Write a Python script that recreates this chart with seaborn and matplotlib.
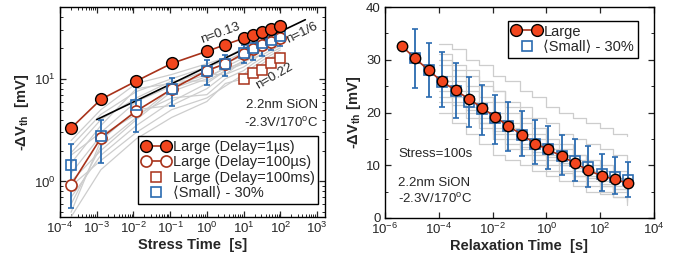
import numpy as np
import pandas as pd
import matplotlib
matplotlib.use('Agg')
import matplotlib.pyplot as plt
import matplotlib.ticker as mticker
from matplotlib.legend_handler import HandlerLine2D
from matplotlib.lines import Line2D
import seaborn as sns

sns.set_style("ticks")
plt.rcParams['font.family'] = ['Liberation Sans', 'DejaVu Sans']
plt.rcParams['mathtext.fontset'] = 'custom'
plt.rcParams['mathtext.rm'] = 'Liberation Sans'
plt.rcParams['mathtext.it'] = 'Liberation Sans:italic'
plt.rcParams['mathtext.bf'] = 'Liberation Sans:bold'
plt.rcParams['font.size'] = 9

# ---------------- datos panel izquierdo (estres) ----------------
t_stress = [2e-4, 1.3e-3, 1.2e-2, 0.11, 1.0, 3.2, 10.0, 18.0, 32.0, 56.0, 100.0]
large_1us = [3.3, 6.3, 9.5, 14.1, 18.5, 21.5, 24.8, 26.4, 28.4, 30.7, 33.0]
large_100us = [0.92, 2.65, 4.85, 7.9, 12.0, 14.0, 17.6, 19.5, 21.3, 23.0, 25.0]
t_100ms = [10.0, 18.0, 32.0, 56.0, 100.0]
large_100ms = [10.0, 11.3, 12.3, 14.1, 15.9]
small_mean = [1.43, 2.75, 5.6, 7.9, 12.0, 14.0, 17.9, 19.8, 22.2, 24.0, 25.8]
small_hi = [2.3, 4.0, 8.3, 10.2, 15.2, 17.1, 21.4, 24.0, 27.4, 30.0, 30.7]
small_lo = [0.55, 1.5, 3.0, 5.4, 8.6, 10.7, 14.1, 15.2, 16.8, 19.0, 21.0]
fit_t = [1e-3, 480.0]
fit_v = [4.0, 37.6]

gris_izq = [
    [2.2, 4.5, 7.5, 10, 13, 15, 18, 20, 22, 24, 27],
    [1.5, 3.5, 8.0, 9, 12, 14, 17, 19, 21, 23, 25],
    [1.0, 2.0, 4.0, 7.5, 10, 13, 16, 18, 20, 22, 24],
    [0.7, 1.8, 3.5, 6, 9, 12, 14, 17, 19, 20, 22],
    [0.5, 2.5, 5, 5.5, 8, 11, 13, 15, 18, 21, 23],
    [1.8, 3.0, 6, 8.5, 11, 11, 15, 16, 20, 22, 26],
    [1.2, 2.8, 4.5, 6.5, 7, 10, 12, 14, 16, 18, 20],
    [0.9, 1.6, 3.0, 5.0, 6.5, 8.5, 11, 13, 15, 17, 19],
    [2.5, 5, 9, 11, 14, 16, 20, 22, 25, 27, 29],
    [0.45, 1.3, 2.6, 4.2, 6, 9, 10, 12, 14, 16, 18],
    [1.9, 4.0, 6.5, 9.5, 9.5, 12, 15, 18, 21, 24, 28],
    [0.6, 2.2, 4.2, 8.0, 10.5, 12.5, 14.5, 16, 17, 19, 21],
]

# ---------------- datos panel derecho (relajacion) ----------------
t_relax = [4.2e-6, 1.3e-5, 4.2e-5, 1.3e-4, 4.2e-4, 1.3e-3, 4.0e-3, 1.25e-2, 3.9e-2,
           0.123, 0.38, 1.17, 3.7, 11.5, 36.0, 112.0, 350.0, 1100.0]
large_relax = [32.6, 30.3, 28.0, 25.9, 24.2, 22.6, 20.9, 19.2, 17.4, 15.8, 14.1,
               13.0, 11.7, 10.4, 9.05, 8.0, 7.3, 6.6]
small_relax = [30.3, 28.1, 25.8, 24.0, 22.0, 20.6, 19.0, 17.4, 15.8, 14.1, 13.1,
               11.8, 10.8, 9.6, 8.4, 7.7, 7.2]
small_relax_hi = [35.9, 33.2, 31.5, 29.4, 26.8, 25.3, 23.4, 22.0, 20.3, 18.5, 17.5,
                  15.8, 14.9, 13.6, 12.2, 11.6, 10.6]
small_relax_lo = [24.7, 23.0, 21.1, 19.0, 17.3, 15.8, 14.1, 12.7, 11.7, 10.3, 9.2,
                  8.2, 7.0, 5.9, 5.1, 4.6, 4.0]

t_gris = [1e-4, 3e-4, 1e-3, 3e-3, 1e-2, 3e-2, 0.1, 0.3, 1, 3, 10, 30, 100, 300, 1000]
gris_der = [
    [33, 32, 30, 29, 27, 26, 24, 23, 21, 20, 19, 18, 17, 16, 15.5],
    [31, 29, 28, 25, 24, 22, 21, 19, 18, 16, 15, 14, 13, 12, 11],
    [29, 27, 25, 23, 22, 20, 18, 17, 15, 14, 12, 11, 10, 9, 8],
    [27, 26, 24, 22, 20, 18, 16, 15, 13, 12, 11, 9, 8, 7, 6],
    [25, 23, 21, 19, 17, 16, 14, 12, 11, 10, 9, 8, 7, 5.5, 5],
    [22, 20, 19, 17, 15, 13, 12, 11, 10, 9, 8, 7, 6, 5, 3.5],
    [20, 18, 16, 14, 12, 11, 10, 9, 8, 7, 6, 5, 4.5, 4, 3],
    [30, 28, 27, 26, 24, 21, 19, 16, 14, 13, 12, 10, 9, 7.5, 6.5],
    [24, 22, 20, 18, 16, 14, 13, 10, 9, 8.5, 7, 6, 5, 4, 2.5],
    [26, 24, 22, 20, 18.5, 17, 15, 13.5, 12, 10.5, 9.5, 8.5, 6.5, 6, 4.5],
    [23, 21.5, 20.5, 18, 16.5, 15, 13.5, 12.5, 11.5, 10, 8, 7.5, 6, 5.5, 4],
]

# colores
ROJO = '#F2461E'
LINEA = '#A8321A'
AZUL = '#2A6BB0'
GRIS = '#CDCDCD'
FS_TXT = 9.5
FS_LEG = 10.5

fig = plt.figure(figsize=(6.75, 2.56), dpi=100)
ax1 = fig.add_axes([60 / 675, 39 / 256, 265 / 675, 210 / 256])
ax2 = fig.add_axes([385 / 675, 38 / 256, 269 / 675, 211 / 256])

# ================= panel izquierdo =================
df_g = pd.DataFrame([(i, t, v) for i, tr in enumerate(gris_izq) for t, v in zip(t_stress, tr)],
                    columns=['traza', 't', 'v'])
sns.lineplot(data=df_g, x='t', y='v', units='traza', estimator=None, color=GRIS,
             lw=0.9, ax=ax1, legend=False, zorder=1)

ax1.plot(fit_t, fit_v, color='black', lw=1.2, zorder=3)

ax1.errorbar(t_stress, small_mean,
             yerr=[np.array(small_mean) - np.array(small_lo), np.array(small_hi) - np.array(small_mean)],
             fmt='none', ecolor=AZUL, elinewidth=1.3, capsize=2.5, capthick=1.2, zorder=4)
ax1.plot(t_stress, large_100us, color=LINEA, lw=1.2, marker='o', ms=8, mfc='white',
         mec=LINEA, mew=1.2, zorder=5)
ax1.plot(t_stress, small_mean, ls='none', marker='s', ms=7, mfc='none', mec=AZUL,
         mew=1.2, zorder=6)
ax1.plot(t_100ms, large_100ms, ls='none', marker='s', ms=7, mfc='white', mec=LINEA,
         mew=1.1, zorder=5)
ax1.plot(t_stress, large_1us, color=LINEA, lw=1.2, marker='o', ms=8.5, mfc=ROJO,
         mec='black', mew=1.0, zorder=7)

ax1.set_xscale('log')
ax1.set_yscale('log')
ax1.set_xlim(1e-4, 1.65e3)
ax1.set_ylim(0.45, 50)
ax1.xaxis.set_major_locator(mticker.LogLocator(base=10, numticks=20))
ax1.xaxis.set_minor_locator(mticker.LogLocator(base=10, subs=np.arange(2, 10), numticks=20))
ax1.xaxis.set_minor_formatter(mticker.NullFormatter())
ax1.yaxis.set_minor_formatter(mticker.NullFormatter())

ax1.text(2.3, 27.7, 'n=0.13', rotation=20, ha='center', va='center', fontsize=FS_TXT)
ax1.text(400, 27.7, 'n=1/6', rotation=26, ha='center', va='center', fontsize=FS_TXT)
ax1.text(68, 10.5, 'n=0.22', rotation=30, ha='center', va='center', fontsize=FS_TXT)
ax1.text(0.975, 0.535, '2.2nm SiON', transform=ax1.transAxes, ha='right', va='center',
         fontsize=FS_TXT)
ax1.text(0.975, 0.45, '-2.3V/170$^\\mathregular{o}$C', transform=ax1.transAxes, ha='right',
         va='center', fontsize=FS_TXT)

ax1.set_xlabel('Stress Time  [s]', fontweight='bold', fontsize=10.5, labelpad=1)
ax1.set_ylabel('-ΔV$_\\mathbf{th}$  [mV]', fontweight='bold', fontsize=10.5, labelpad=2)

h1 = [Line2D([], [], color=LINEA, lw=1.2, marker='o', ms=8.5, mfc=ROJO, mec='black'),
      Line2D([], [], color=LINEA, lw=1.2, marker='o', ms=8, mfc='white', mec=LINEA, mew=1.2),
      Line2D([], [], ls='none', marker='s', ms=7, mfc='white', mec=LINEA, mew=1.1),
      Line2D([], [], ls='none', marker='s', ms=7, mfc='white', mec=AZUL, mew=1.2)]
l1 = ['Large (Delay=1µs)', 'Large (Delay=100µs)', 'Large (Delay=100ms)', '⟨Small⟩ - 30%']
leg1 = ax1.legend(h1, l1, loc='lower right', bbox_to_anchor=(0.974, 0.062), numpoints=2,
                  handler_map={h1[2]: HandlerLine2D(numpoints=1), h1[3]: HandlerLine2D(numpoints=1)},
                  frameon=True, fancybox=False, framealpha=1, edgecolor='black',
                  fontsize=FS_LEG, handlelength=2.0, handletextpad=0.15, borderpad=0.25,
                  labelspacing=0.1, borderaxespad=0)
leg1.get_frame().set_linewidth(1.0)
leg1.set_zorder(10)

# ================= panel derecho =================
df_r = pd.DataFrame([(i, t, v) for i, tr in enumerate(gris_der) for t, v in zip(t_gris, tr)],
                    columns=['traza', 't', 'v'])
sns.lineplot(data=df_r, x='t', y='v', units='traza', estimator=None, color=GRIS,
             lw=0.9, ax=ax2, legend=False, zorder=1, drawstyle='steps-post')

ax2.errorbar(t_relax[1:], small_relax,
             yerr=[np.array(small_relax) - np.array(small_relax_lo),
                   np.array(small_relax_hi) - np.array(small_relax)],
             fmt='none', ecolor=AZUL, elinewidth=1.3, capsize=2.5, capthick=1.2, zorder=3)
ax2.plot(t_relax[1:], small_relax, ls='none', marker='s', ms=7.5, mfc='none', mec=AZUL,
         mew=1.2, zorder=4)
ax2.plot(t_relax, large_relax, color=LINEA, lw=1.2, marker='o', ms=7.5, mfc=ROJO,
         mec='black', mew=1.0, zorder=5)

ax2.set_xscale('log')
ax2.set_xlim(1e-6, 1e4)
ax2.set_ylim(0, 40)
ax2.xaxis.set_major_locator(mticker.LogLocator(base=100, numticks=10))
ax2.xaxis.set_minor_locator(mticker.NullLocator())
ax2.yaxis.set_major_locator(mticker.MultipleLocator(10))
ax2.yaxis.set_minor_locator(mticker.MultipleLocator(5))

ax2.text(0.05, 0.305, 'Stress=100s', transform=ax2.transAxes, ha='left', va='center', fontsize=FS_TXT)
ax2.text(0.05, 0.165, '2.2nm SiON', transform=ax2.transAxes, ha='left', va='center', fontsize=FS_TXT)
ax2.text(0.05, 0.09, '-2.3V/170$^\\mathregular{o}$C', transform=ax2.transAxes, ha='left',
         va='center', fontsize=FS_TXT)

ax2.set_xlabel('Relaxation Time  [s]', fontweight='bold', fontsize=10.5, labelpad=1)
ax2.set_ylabel('-ΔV$_\\mathbf{th}$ [mV]', fontweight='bold', fontsize=10.5, labelpad=2)

h2 = [h1[0], Line2D([], [], ls='none', marker='s', ms=7, mfc='white', mec=AZUL, mew=1.2)]
leg2 = ax2.legend(h2, ['Large', '⟨Small⟩ - 30%'], loc='upper right', bbox_to_anchor=(0.94, 0.934),
                  numpoints=2, handler_map={h2[1]: HandlerLine2D(numpoints=1)},
                  frameon=True, fancybox=False, framealpha=1, edgecolor='black',
                  fontsize=FS_LEG, handlelength=2.0, handletextpad=0.15, borderpad=0.25,
                  labelspacing=0.1, borderaxespad=0)
leg2.get_frame().set_linewidth(1.0)
leg2.set_zorder(10)

for ax in (ax1, ax2):
    ax.tick_params(which='both', direction='in', top=True, right=True, labelsize=9.5, pad=3)
    ax.tick_params(which='major', length=4, width=0.9)
    ax.tick_params(which='minor', length=2, width=0.7)
    for s in ax.spines.values():
        s.set_linewidth(1.0)
        s.set_color('black')

fig.savefig('out.png', dpi=100)
